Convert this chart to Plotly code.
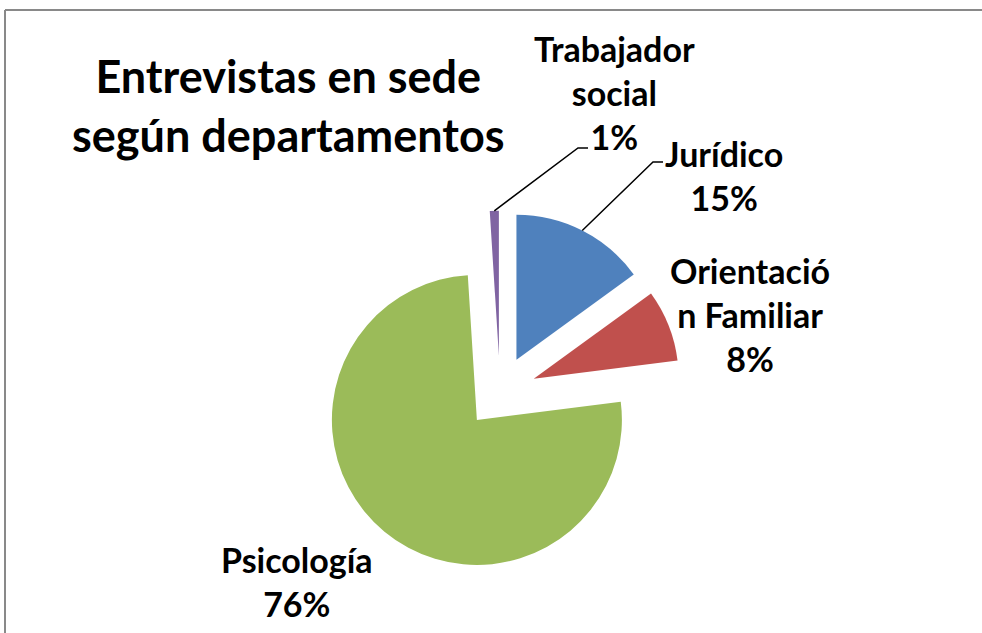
import math
import plotly.graph_objects as go

# data
departamentos = ["Jurídico", "Orientación Familiar", "Psicología", "Trabajador social"]
porcentajes = [15, 8, 76, 1]
etiquetas = ["Jurídico<br>15%", "Orientació<br>n Familiar<br>8%", "Psicología<br>76%",
             "Trabajador<br>social<br>1%"]
colores = ["#4F81BD", "#C0504D", "#9BBB59", "#8064A2"]

W, H = 982, 633
# pie geometry in pixels
cx, cy = 500, 392
radio = 145
pull = 0.25
half = radio * (1 + pull)


def px(x):
    return x / W


def py(y):
    return (H - y) / H


fig = go.Figure(go.Pie(
    labels=departamentos,
    values=porcentajes,
    marker=dict(colors=colores, line=dict(width=0)),
    sort=False,
    direction="clockwise",
    rotation=0,
    pull=[pull] * 4,
    textinfo="none",
    hoverinfo="label+percent",
    showlegend=False,
    domain=dict(x=[px(cx - half), px(cx + half)], y=[py(cy + half), py(cy - half)]),
))

# label centres (pixels)
pos_etiquetas = [(724, 175), (750, 314), (297, 581), (614, 92)]
font_lbl = dict(family="Lato, 'Open Sans', sans-serif", size=34, color="#000000")
annotations = []
for txt, (x, y) in zip(etiquetas, pos_etiquetas):
    annotations.append(dict(text="<b>%s</b>" % txt, x=px(x), y=py(y), xref="paper", yref="paper",
                            showarrow=False, xanchor="center", yanchor="middle", font=font_lbl))

annotations.append(dict(text="<b>Entrevistas en sede<br>según departamentos</b>",
                        x=px(288), y=py(105), xref="paper", yref="paper", showarrow=False,
                        xanchor="center", yanchor="middle",
                        font=dict(family="Lato, 'Open Sans', sans-serif", size=45, color="#000000")))

# leader lines from slice arc midpoint to label elbows
total = sum(porcentajes)
shapes = []
acum = 0
codos = {0: [(653, 162), (663, 162)], 3: [(578, 148), (588, 148)]}
for i, v in enumerate(porcentajes):
    mid = math.radians((acum + v / 2) / total * 360)
    acum += v
    if i not in codos:
        continue
    dx, dy = math.sin(mid), -math.cos(mid)
    ax = cx + dx * (radio * pull + radio)
    ay = cy + dy * (radio * pull + radio)
    pts = [(ax, ay)] + codos[i]
    path = "M %f %f" % (px(pts[0][0]), py(pts[0][1]))
    for x, y in pts[1:]:
        path += " L %f %f" % (px(x), py(y))
    shapes.append(dict(type="path", path=path, xref="paper", yref="paper",
                       line=dict(color="#000000", width=1.5)))

# chart frame (right and bottom edges fall outside the view)
marco = dict(color="#898989", width=2)
shapes.append(dict(type="line", xref="paper", yref="paper", x0=px(5), y0=py(10), x1=1.02, y1=py(10), line=marco))
shapes.append(dict(type="line", xref="paper", yref="paper", x0=px(5), y0=py(10), x1=px(5), y1=-0.02, line=marco))

fig.update_layout(
    width=W, height=H,
    margin=dict(l=0, r=0, t=0, b=0),
    paper_bgcolor="#FFFFFF",
    plot_bgcolor="#FFFFFF",
    annotations=annotations,
    shapes=shapes,
)

fig.write_html("out.html", config={"displayModeBar": False},
               post_script="document.body.style.margin='0';document.body.style.overflow='hidden';")
